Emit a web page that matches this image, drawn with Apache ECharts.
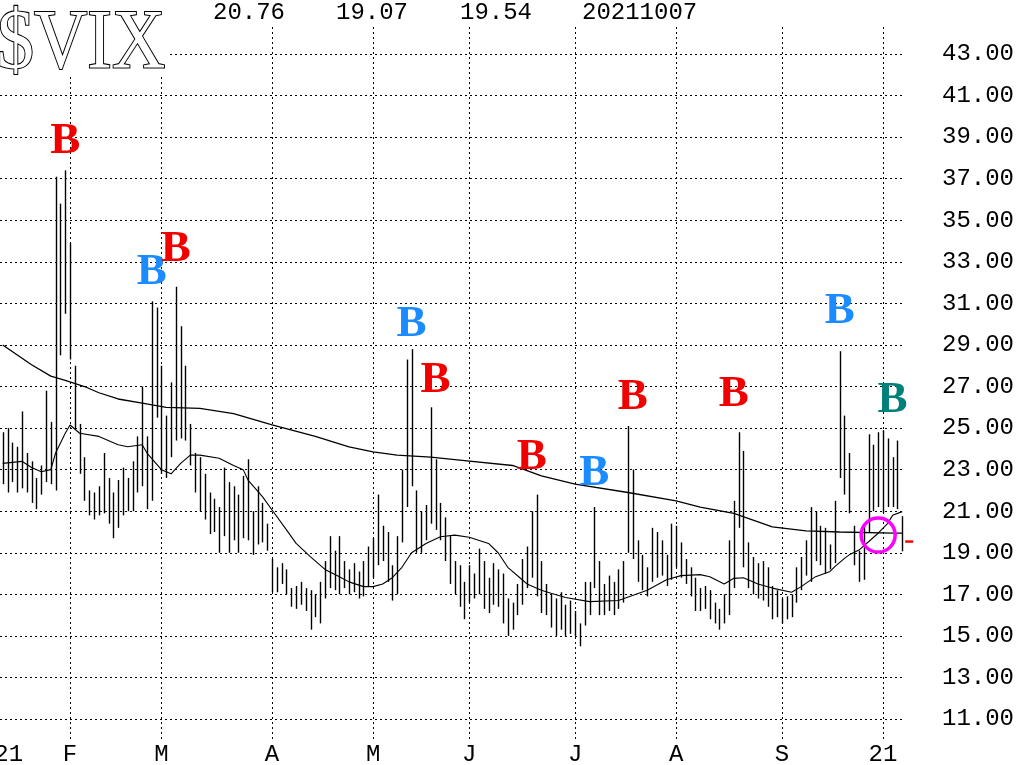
<!DOCTYPE html>
<html><head><meta charset="utf-8">
<script src="https://cdn.jsdelivr.net/npm/echarts@6/dist/echarts.min.js"></script>
<style>html,body{margin:0;padding:0;background:#fff}#c{width:1022px;height:765px}</style>
</head><body><div id="c"></div>
<script>
// ---------- DATA ----------
const dates = [
 '01-11','01-12','01-13','01-14','01-15','01-19','01-20','01-21','01-22','01-25','01-26','01-27','01-28','01-29',
 '02-01','02-02','02-03','02-04','02-05','02-08','02-09','02-10','02-11','02-12','02-16','02-17','02-18','02-19','02-22','02-23','02-24','02-25','02-26',
 '03-01','03-02','03-03','03-04','03-05','03-08','03-09','03-10','03-11','03-12','03-15','03-16','03-17','03-18','03-19','03-22','03-23','03-24','03-25','03-26','03-29','03-30','03-31',
 '04-01','04-05','04-06','04-07','04-08','04-09','04-12','04-13','04-14','04-15','04-16','04-19','04-20','04-21','04-22','04-23','04-26','04-27','04-28','04-29','04-30',
 '05-03','05-04','05-05','05-06','05-07','05-10','05-11','05-12','05-13','05-14','05-17','05-18','05-19','05-20','05-21','05-24','05-25','05-26','05-27','05-28',
 '06-01','06-02','06-03','06-04','06-07','06-08','06-09','06-10','06-11','06-14','06-15','06-16','06-17','06-18','06-21','06-22','06-23','06-24','06-25','06-28','06-29','06-30',
 '07-01','07-02','07-06','07-07','07-08','07-09','07-12','07-13','07-14','07-15','07-16','07-19','07-20','07-21','07-22','07-23','07-26','07-27','07-28','07-29','07-30',
 '08-02','08-03','08-04','08-05','08-06','08-09','08-10','08-11','08-12','08-13','08-16','08-17','08-18','08-19','08-20','08-23','08-24','08-25','08-26','08-27','08-30','08-31',
 '09-01','09-02','09-03','09-07','09-08','09-09','09-10','09-13','09-14','09-15','09-16','09-17','09-20','09-21','09-22','09-23','09-24','09-27','09-28','09-29','09-30',
 '10-01','10-04','10-05','10-06','10-07'
];
const highs = [
 24.8,25.0,24.3,24.1,25.8,23.8,23.4,22.6,23.2,26.8,25.3,37.1,35.8,37.4,
 33.9,28.0,25.2,23.6,22.0,21.9,22.2,23.8,22.6,21.9,22.5,23.1,22.6,23.4,24.6,27.0,24.6,31.1,30.8,
 28.0,25.6,27.2,31.8,29.9,28.0,25.2,23.8,23.6,22.8,21.9,21.6,21.2,23.1,22.4,22.2,21.8,22.7,23.5,21.0,22.2,21.4,20.4,
 18.7,18.3,18.5,18.2,17.3,17.4,17.6,17.3,17.2,17.0,17.6,18.6,19.8,19.1,19.8,18.6,18.2,18.5,18.1,18.6,19.3,
 19.7,21.8,20.3,20.0,18.4,19.8,23.0,28.3,28.8,22.0,21.0,21.3,26.0,23.5,21.4,20.7,19.8,18.6,18.4,17.6,
 18.4,18.0,19.2,18.6,17.8,18.5,18.2,18.0,16.8,16.6,17.5,18.7,19.3,21.0,21.8,18.6,17.5,17.0,16.8,17.1,16.5,16.7,
 16.2,15.6,17.6,17.6,21.2,18.6,17.5,17.9,17.6,18.2,18.6,25.1,23.0,19.6,18.9,18.3,20.2,20.0,19.6,18.9,20.4,
 20.3,19.5,18.7,18.3,17.8,17.3,17.4,17.2,16.6,16.3,17.0,19.6,21.5,24.8,23.9,19.5,18.8,18.5,18.6,18.3,17.4,17.2,
 16.8,16.9,17.0,18.3,18.8,19.6,21.2,21.0,20.3,20.2,19.4,21.5,28.7,25.6,23.8,20.3,19.1,20.3,24.7,24.2,24.8,
 24.9,24.5,23.6,24.4,20.76
];
const lows = [
 22.3,21.9,22.4,21.9,22.1,21.9,21.4,21.1,21.8,22.4,22.3,22.0,28.5,30.5,
 28.3,25.0,22.8,21.5,20.8,20.6,20.8,20.9,20.4,19.7,20.2,20.8,21.0,21.0,21.9,22.2,21.1,21.5,25.5,
 22.8,22.6,23.6,24.4,24.5,24.4,23.2,21.9,21.0,20.6,19.9,20.0,19.0,19.8,19.0,19.6,19.0,19.7,19.6,18.9,19.4,19.5,19.1,
 17.1,17.1,17.5,17.0,16.4,16.3,16.5,16.2,15.3,15.9,15.6,16.8,17.3,17.2,17.0,17.3,17.0,17.1,16.8,16.9,17.4,
 17.8,18.4,18.6,17.6,16.7,17.0,19.5,21.2,22.2,19.0,19.0,19.6,20.4,20.1,19.6,18.6,17.5,17.0,16.4,15.8,
 16.6,16.8,17.0,16.3,16.1,16.5,16.4,15.6,15.0,15.3,16.0,16.5,17.3,17.8,16.9,16.1,16.0,15.4,15.0,15.3,15.0,15.1,
 15.0,14.5,15.5,16.0,17.3,16.0,16.0,16.2,16.0,16.3,16.6,19.0,18.7,17.6,17.2,16.9,17.6,17.8,17.9,17.4,17.7,
 18.3,17.8,17.5,16.9,16.2,16.2,16.3,15.8,15.6,15.3,15.6,16.0,17.3,20.2,18.3,17.3,17.0,16.8,16.7,16.4,15.8,15.9,
 15.6,15.8,15.9,16.6,17.2,17.9,17.6,18.6,18.4,18.0,18.2,18.5,22.6,21.8,20.9,18.4,17.6,17.7,20.0,21.0,21.2,
 20.9,21.2,21.2,21.1,19.07
];
const lastClose = 19.54;
const headerVals = ['20.76', '19.07', '19.54', '20211007'];
const tickDates  = ['01-11','02-01','03-01','04-01','05-03','06-01','07-01','08-02','09-01','10-01'];
const tickLabels = ['21','F','M','A','M','J','J','A','S','21'];
const ma200 = [
 ['01-11',29.0],['01-20',28.05],['01-26',27.5],['01-29',27.3],['02-04',27.0],['02-09',26.7],['02-16',26.4],
 ['02-23',26.2],['03-02',26.0],['03-11',25.95],['03-22',25.7],['04-01',25.15],['04-15',24.6],['04-26',24.1],
 ['05-03',23.86],['05-10',23.7],['05-19',23.6],['05-27',23.46],['06-14',23.2],['06-22',22.7],['07-01',22.3],
 ['07-19',21.9],['08-02',21.5],['08-09',21.2],['08-18',20.9],['08-30',20.25],['09-09',20.05],['09-20',20.0],
 ['10-05',19.95],['10-07',19.95]
];
const ma20 = [
 ['01-11',23.3],['01-15',23.4],['01-20',23.1],['01-22',22.9],['01-26',23.0],['01-27',23.8],['01-29',24.75],
 ['02-01',25.15],['02-03',24.75],['02-09',24.6],['02-16',24.2],['02-18',24.1],['02-23',24.2],['02-24',23.8],
 ['03-01',23.0],['03-03',22.8],['03-05',23.3],['03-09',23.7],['03-11',23.7],['03-17',23.55],['03-22',23.2],
 ['03-24',23.0],['03-25',22.5],['03-30',21.7],['04-01',21.06],['04-07',20.1],['04-09',19.45],['04-14',18.8],
 ['04-19',18.2],['04-22',17.85],['04-26',17.6],['04-29',17.37],['05-03',17.37],['05-05',17.5],['05-07',17.8],
 ['05-11',18.3],['05-13',19.0],['05-18',19.45],['05-21',19.77],['05-26',19.85],['06-01',19.75],['06-07',19.45],
 ['06-09',19.0],['06-11',18.3],['06-16',17.7],['06-17',17.5],['06-22',17.2],['06-24',17.05],['06-29',16.85],
 ['07-07',16.65],['07-15',16.7],['07-23',17.2],['07-29',17.7],['08-03',17.9],['08-09',17.95],['08-11',17.85],
 ['08-16',17.5],['08-18',17.77],['08-20',17.8],['08-25',17.5],['08-30',17.3],['09-03',17.1],['09-08',17.37],
 ['09-13',17.85],['09-16',18.1],['09-17',18.33],['09-21',18.73],['09-22',18.9],['09-24',19.13],['09-28',19.53],
 ['09-30',19.94],['10-04',20.42],['10-05',20.8],['10-07',20.98]
];
const signals = [
 ['01-29',38.8,'red'],['02-25',32.5,'blue'],['03-04',33.6,'red'],['05-13',30.0,'blue'],['05-20',27.3,'red'],
 ['06-18',23.6,'red'],['07-08',22.8,'blue'],['07-20',26.5,'red'],['08-18',26.6,'red'],['09-20',30.6,'blue'],
 ['10-05',26.35,'teal']
];
const signalColors = { red: '#f20000', blue: '#1a8cff', teal: '#00807a' };
const crossPoint = ['09-30', 19.85];

// ---------- CHART ----------
const monoFont = 'Liberation Mono';
const dotted = { color: '#000', type: [2, 3], width: 1 };
const chart = echarts.init(document.getElementById('c'), null, { renderer: 'canvas' });
const crisp = v => Math.round(v) + 0.5;

const option = {
  animation: false,
  backgroundColor: '#fff',
  grid: [
    { left: 2.7, width: 899.5, top: 27, height: 712.8, containLabel: false, outerBoundsMode: 'none' },
    { left: 0, width: 905, top: 54, height: 665, containLabel: false, outerBoundsMode: 'none' }
  ],
  xAxis: [
    {
      gridIndex: 0, type: 'category', data: dates, boundaryGap: false,
      axisLine: { show: false }, axisTick: { show: false },
      axisLabel: {
        interval: (i, v) => tickDates.includes(v),
        formatter: (v, i) => (i === 0 ? '{first|' : '{m|') + tickLabels[tickDates.indexOf(v)] + '}',
        fontFamily: monoFont, fontSize: 24, color: '#000', margin: 3,
        rich: {
          first: { fontFamily: monoFont, fontSize: 24, color: '#000', padding: [0, 0, 0, 12] },
          m: { fontFamily: monoFont, fontSize: 24, color: '#000' }
        }
      },
      splitLine: { show: true, interval: (i, v) => i > 0 && tickDates.includes(v), lineStyle: dotted }
    },
    { gridIndex: 1, type: 'value', min: 0, max: 1, show: false }
  ],
  yAxis: [
    { gridIndex: 0, type: 'value', min: 10, max: 44.3, show: false, splitLine: { show: false } },
    {
      gridIndex: 1, type: 'value', position: 'right', min: 11, max: 43, interval: 2,
      axisLine: { show: false }, axisTick: { show: false },
      axisLabel: { margin: 37, formatter: v => v.toFixed(2), fontFamily: monoFont, fontSize: 24, color: '#000' },
      splitLine: { show: true, lineStyle: dotted }
    }
  ],
  series: [
    {
      type: 'custom', xAxisIndex: 0, yAxisIndex: 0, z: 3,
      data: dates.map((d, i) => [i, highs[i], lows[i]]),
      encode: { x: 0, y: [1, 2] },
      renderItem: (params, api) => {
        const i = api.value(0);
        const a = api.coord([i, api.value(1)]);
        const b = api.coord([i, api.value(2)]);
        const x = crisp(a[0]);
        return { type: 'line', shape: { x1: x, y1: a[1], x2: x, y2: b[1] }, style: { stroke: '#000', lineWidth: 1.4 } };
      }
    },
    {
      type: 'line', xAxisIndex: 0, yAxisIndex: 0, data: ma200, symbol: 'none', z: 3,
      lineStyle: { color: '#000', width: 1.3 }
    },
    {
      type: 'line', xAxisIndex: 0, yAxisIndex: 0, data: ma20, symbol: 'none', z: 3,
      lineStyle: { color: '#000', width: 1.1 }
    },
    {
      type: 'custom', xAxisIndex: 0, yAxisIndex: 0, z: 6,
      data: signals.map(s => [s[0], s[1]]),
      renderItem: (params, api) => {
        const p = api.coord([api.value(0), api.value(1)]);
        return {
          type: 'text', x: p[0], y: p[1],
          style: {
            text: 'B', fill: signalColors[signals[params.dataIndex][2]],
            font: 'bold 45px "Liberation Serif"', align: 'center', verticalAlign: 'middle'
          }
        };
      }
    },
    {
      type: 'custom', xAxisIndex: 0, yAxisIndex: 0, z: 7,
      data: [crossPoint],
      renderItem: (params, api) => {
        const p = api.coord([api.value(0), api.value(1)]);
        return { type: 'circle', shape: { cx: p[0], cy: p[1], r: 17 }, style: { fill: 'none', stroke: '#ff00ff', lineWidth: 3.5 } };
      }
    },
    {
      type: 'custom', xAxisIndex: 0, yAxisIndex: 0, z: 7,
      data: [[dates[dates.length - 1], lastClose]],
      renderItem: (params, api) => {
        const p = api.coord([api.value(0), api.value(1)]);
        return { type: 'line', shape: { x1: p[0] + 3, y1: p[1], x2: p[0] + 11, y2: p[1] }, style: { stroke: '#f00', lineWidth: 2.5 } };
      }
    }
  ],
  graphic: [
    { type: 'rect', left: 0, top: 0, shape: { width: 168, height: 76 }, style: { fill: '#fff' }, z: 10 },
    {
      type: 'text', x: -3, y: 46, scaleX: 0.88, z: 11,
      style: { text: '$VIX', font: '84px "Liberation Serif"', fill: '#fff', stroke: '#000', lineWidth: 2.2, verticalAlign: 'middle' }
    }
  ].concat(headerVals.map((t, k) => ({
    type: 'text', x: [213, 336, 460, 582][k], y: 13, z: 11,
    style: { text: t, font: '24px "' + monoFont + '"', fill: '#000', verticalAlign: 'middle' }
  })))
};
chart.setOption(option);
</script>
</body></html>
